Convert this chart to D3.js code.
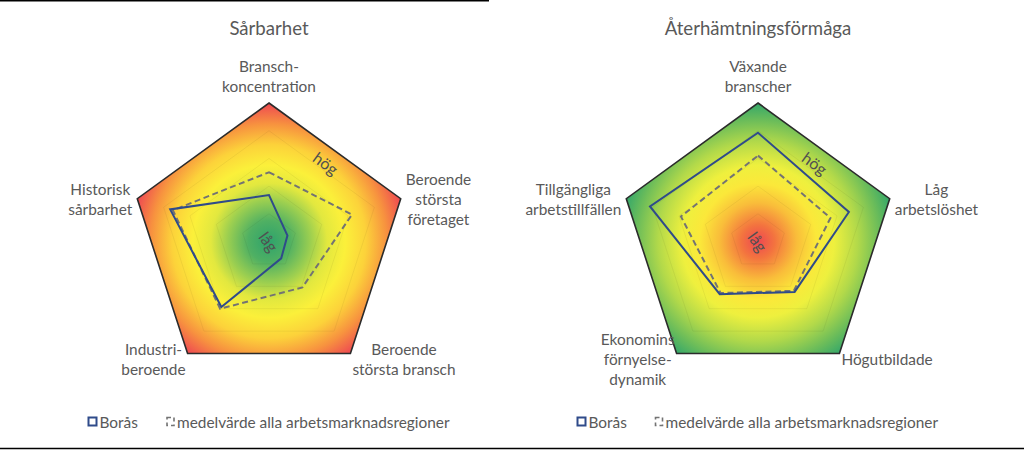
<!DOCTYPE html>
<html><head><meta charset="utf-8">
<script src="https://cdn.jsdelivr.net/npm/d3@7"></script>
<style>
body{margin:0;background:#fff}
svg{display:block}
text{font-family:Lato,"Open Sans",sans-serif;fill:#595959}
</style>
</head><body><svg id="c" width="1024" height="450"></svg>
<script>
// ---- data ----
const vulnAxes = ["Bransch-\nkoncentration", "Beroende\nstörsta\nföretaget", "Beroende\nstörsta bransch", "Industri-\nberoende", "Historisk\nsårbarhet"];
const vulnBoras = [0.335, 0.14, 0.15, 0.585, 0.75];
const vulnAvg = [0.50, 0.63, 0.41, 0.60, 0.73];
const recAxes = ["Växande\nbranscher", "Låg\narbetslöshet", "Högutbildade", "Ekonomins\nförnyelse-\ndynamik", "Tillgängliga\narbetstillfällen"];
const recBoras = [0.785, 0.69, 0.45, 0.47, 0.82];
const recAvg = [0.62, 0.55, 0.44, 0.46, 0.585];
const gridTicks = [0.2, 0.4, 0.6, 0.8, 1.0];
const chartTitles = ["Sårbarhet", "Återhämtningsförmåga"];
const seriesNames = ["Borås", "medelvärde alla arbetsmarknadsregioner"];
const levelLabels = ["hög", "låg"];
const levelValues = [0.7, 0];

// ---- styles ----
const vulnStops = [[0,"#2ea36c"],[0.15,"#4fb063"],[0.3,"#9ccf50"],[0.42,"#e2e83f"],[0.55,"#fbf03a"],[0.7,"#fcd23a"],[0.85,"#f7923f"],[1,"#ee4752"]];
const recStops = [[0,"#ee4752"],[0.12,"#f3733f"],[0.28,"#f9bd3a"],[0.42,"#fbe83a"],[0.55,"#eef03e"],[0.72,"#b2d94a"],[0.88,"#6abc5a"],[1,"#34a76a"]];

const svg = d3.select("#c");
const R = 138.5;
const r = d3.scaleLinear().domain([0, 1]).range([0, R]);
const N = 5;
const ang = d3.scaleLinear().domain([0, N]).range([0, 2 * Math.PI]);
const FS = 15.4;

svg.append("line").attr("x1",0).attr("x2",489).attr("y1",0.75).attr("y2",0.75).attr("stroke","#000").attr("stroke-width",1.5);
svg.append("line").attr("x1",0).attr("x2",1024).attr("y1",448.5).attr("y2",448.5).attr("stroke","#000").attr("stroke-width",1.5);

const defs = svg.append("defs");

function radar(cfg) {
  const g = svg.append("g").attr("transform", `translate(${cfg.cx},${cfg.cy})`);
  const grad = defs.append("radialGradient").attr("id", cfg.id)
    .attr("gradientUnits","userSpaceOnUse").attr("cx",0).attr("cy",0).attr("r",R);
  cfg.stops.forEach(s => grad.append("stop").attr("offset", s[0]).attr("stop-color", s[1]));

  const poly = v => d3.lineRadial().angle((d,i)=>ang(i)).radius(d=>r(d)).curve(d3.curveLinearClosed)(v);
  const full = d3.range(N).map(()=>1);
  g.append("path").attr("d", poly(full)).attr("fill", `url(#${cfg.id})`);
  gridTicks.slice(0,-1).forEach(t => {
    g.append("path").attr("d", poly(d3.range(N).map(()=>t))).attr("fill","none")
      .attr("stroke","#000").attr("stroke-opacity",0.05).attr("stroke-width",1);
  });
  g.append("path").attr("d", poly(full)).attr("fill","none").attr("stroke","#2b2b2b").attr("stroke-width",1.6);

  // level labels
  const la = ang(0.5);
  g.append("text").text(levelLabels[0]).attr("font-size",16)
    .attr("text-anchor","middle").attr("dominant-baseline","central")
    .attr("transform",`translate(${r(levelValues[0])*Math.sin(la)},${-r(levelValues[0])*Math.cos(la)}) rotate(36)`)
    .style("fill","#505050");
  g.append("text").text(levelLabels[1]).attr("font-size",16)
    .attr("text-anchor","middle").attr("dominant-baseline","central")
    .attr("transform",`translate(${r(levelValues[1])},${0}) rotate(54)`)
    .style("fill","#505050");

  // series
  g.append("path").attr("d", poly(cfg.avg)).attr("fill","none").attr("stroke","#737373")
    .attr("stroke-width",2).attr("stroke-dasharray","6,3.5");
  g.append("path").attr("d", poly(cfg.boras)).attr("fill","none").attr("stroke","#2f4b8a")
    .attr("stroke-width",2).attr("stroke-linejoin","miter");

  // axis labels
  cfg.axes.forEach((lab, i) => {
    const a = ang(i);
    const vx = R * Math.sin(a), vy = -R * Math.cos(a);
    const lines = lab.split("\n");
    const lg = g.append("g");
    const ts = lines.map((l, j) => lg.append("text").text(l).attr("font-size",FS)
      .attr("text-anchor","middle").attr("dominant-baseline","central").attr("y", j*20));
    const w = d3.max(ts, t => t.node().getComputedTextLength());
    const n = lines.length;
    let tx, ty;
    if (Math.abs(Math.sin(a)) < 0.1) {
      tx = vx; ty = vy - 17 - (n-1)*20;
    } else if (Math.cos(a) > 0) {
      tx = Math.sin(a) > 0 ? vx + 5 + w/2 : vx - 5 - w/2;
      ty = vy - (n-1)*10;
    } else {
      tx = Math.sin(a) > 0 ? vx + 2 + w/2 : vx - 2 - w/2;
      ty = vy + 5 - (n-1)*10;
    }
    lg.attr("transform", `translate(${tx},${ty})`);
  });

  // title
  svg.append("text").text(cfg.title).attr("x", cfg.cx).attr("y", 28)
    .attr("text-anchor","middle").attr("dominant-baseline","central").attr("font-size",18.6);

  // legend
  const lgd = svg.append("g").attr("transform", `translate(${cfg.legX},421.5)`);
  lgd.append("rect").attr("x",0.5).attr("y",-4).attr("width",8).attr("height",8)
    .attr("fill","none").attr("stroke","#2f4b8a").attr("stroke-width",2);
  lgd.append("text").text(seriesNames[0]).attr("x",11.5).attr("dominant-baseline","central").attr("font-size",FS);
  lgd.append("rect").attr("x",cfg.legGap).attr("y",-4).attr("width",7).attr("height",8)
    .attr("fill","none").attr("stroke","#737373").attr("stroke-width",1.6).attr("stroke-dasharray","4,3");
  lgd.append("text").text(seriesNames[1]).attr("x",cfg.legGap+10).attr("dominant-baseline","central").attr("font-size",FS);
}

radar({id:"gv", cx:269, cy:241.5, stops:vulnStops, axes:vulnAxes, boras:vulnBoras, avg:vulnAvg, title:chartTitles[0], legX:88, legGap:79});
radar({id:"gr", cx:758, cy:241.5, stops:recStops, axes:recAxes, boras:recBoras, avg:recAvg, title:chartTitles[1], legX:577, legGap:78.5});
</script>
</body></html>
